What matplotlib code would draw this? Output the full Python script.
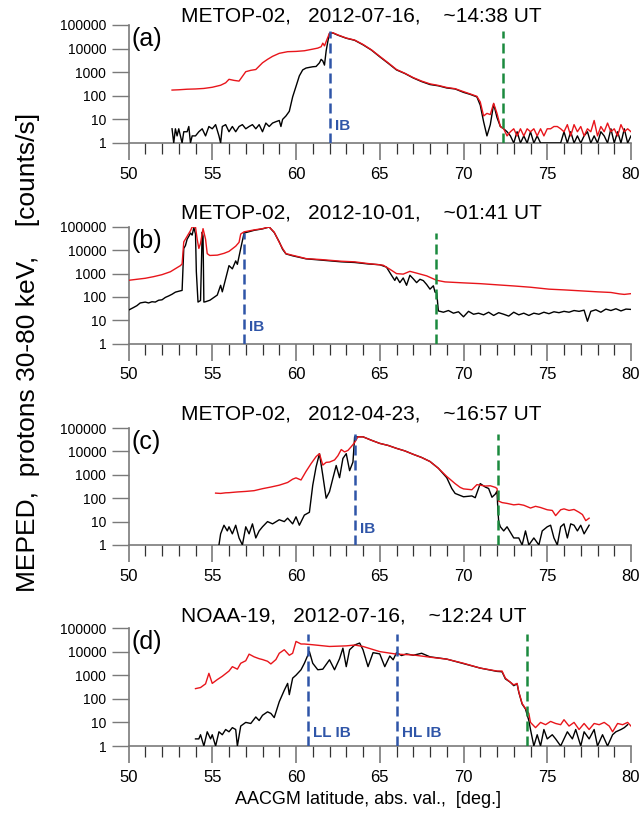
import matplotlib
matplotlib.use("Agg")
import matplotlib.pyplot as plt
from matplotlib.ticker import FixedLocator, LogLocator, NullFormatter

plt.rcParams['font.family'] = ['Liberation Sans', 'DejaVu Sans']

RED = '#e8151b'
BLUE = '#2f55a8'
GREEN = '#1b8a3e'
AXIS_GRAY = '#7a7a7a'

# ---------------- panel (a): METOP-02, 2012-07-16 ----------------
lat_a_red = [52.6, 53.0, 53.5, 54.0, 54.5, 55.0, 55.5, 55.8, 56.0, 56.3, 56.6, 57.0, 57.3,
             57.6, 58.0, 58.3, 58.6, 59.0, 59.5, 60.0, 60.5, 61.0, 61.3, 61.5, 61.6, 61.7,
             61.8, 62.0, 62.2, 62.5, 63.0, 63.5, 64.0, 64.5, 65.0, 65.5, 66.0, 66.5, 67.0,
             67.5, 68.0, 68.5, 69.0, 69.5, 70.0, 70.4, 70.8, 71.0, 71.2, 71.4, 71.6, 71.8,
             72.0, 72.2,
             72.4, 72.6, 72.8, 73.0, 73.2, 73.4, 73.6, 73.8, 74.0, 74.2, 74.4, 74.6, 74.8,
             75.0, 75.2, 75.4, 75.6, 75.8, 76.0, 76.2, 76.4, 76.6, 76.8, 77.0, 77.2, 77.4,
             77.6, 77.8, 78.0, 78.2, 78.4, 78.6, 78.8, 79.0, 79.2, 79.4, 79.6, 79.8, 80.0]
cnt_a_red = [175, 180, 190, 195, 205, 230, 280, 355, 500, 450, 420, 1050, 1200,
             1300, 2500, 3500, 4700, 6300, 7400, 7600, 8100, 9500, 10500, 12000, 17000, 13000,
             20000, 45000, 47000, 38000, 28000, 23000, 15000, 8900, 4700, 2500, 1300, 900, 590,
             420, 320, 275, 225, 200, 150, 120, 95, 55, 14, 18, 16, 48,
             18, 5,
             4, 2, 3, 4, 2, 4, 2, 4, 3, 4, 2, 4, 2,
             4, 4, 5, 5, 4, 3, 6, 2, 6, 3, 5, 2, 4,
             3, 9, 2, 5, 3, 7, 3, 4, 2, 6, 3, 4, 3]

lat_a_blk = [52.6, 52.7, 52.8, 52.9, 53.0, 53.1, 53.2, 53.3, 53.5, 53.6, 53.7, 53.8, 54.0,
             54.2, 54.4, 54.6, 54.8, 55.0, 55.2, 55.4, 55.5, 55.6, 55.8, 56.0, 56.2, 56.4,
             56.6, 56.8, 57.0, 57.2, 57.4, 57.6, 57.8, 58.0, 58.2, 58.4, 58.6, 58.8, 59.0,
             59.1, 59.2, 59.4, 59.6, 59.8, 60.0, 60.2, 60.4, 60.6, 60.8, 61.0, 61.2, 61.4,
             61.5, 61.6, 61.7, 61.8, 61.9, 62.0, 62.2, 62.5, 63.0, 63.5, 64.0, 64.5, 65.0,
             65.5, 66.0, 66.5, 67.0, 67.5, 68.0, 68.5, 69.0, 69.5, 70.0, 70.4, 70.8, 71.0,
             71.2, 71.4, 71.6, 71.8, 72.0, 72.2,
             72.4, 72.6, 72.8, 73.0, 73.2, 73.4, 73.6, 73.8, 74.0, 74.2, 74.4, 74.6, 74.8,
             75.0, 75.2, 75.4, 75.6, 75.8, 76.0, 76.2, 76.4, 76.6, 76.8, 77.0, 77.2, 77.4,
             77.6, 77.8, 78.0, 78.2, 78.4, 78.6, 78.8, 79.0, 79.2, 79.4, 79.6, 79.8, 80.0]
cnt_a_blk = [4, 1, 4, 2, 4, 2, 1, 3, 3, 5, 1, 2, 2,
             3, 4, 2, 5, 4, 6, 2, 1, 5, 6, 3, 5, 3,
             5, 6, 4, 5, 6, 4, 6, 3, 7, 5, 7, 8, 9,
             5, 10, 14, 22, 90, 250, 700, 1250, 1500, 1600, 1700, 1750, 2500,
             3500, 3000, 2000, 8000, 20000, 44000, 46000, 37000, 27500, 22500, 14500, 8700, 4500,
             2400, 1250, 880, 570, 400, 300, 265, 215, 195, 140, 115, 90, 40,
             8, 2, 6, 45, 12, 5,
             4, 3, 2, 1, 3, 1, 2, 1, 3, 1, 2, 1, 1,
             1, 1, 1, 1, 1, 3, 1, 3, 1, 2, 1, 2, 3,
             1, 2, 1, 3, 2, 1, 4, 1, 3, 1, 4, 1, 2]

# ---------------- panel (b): METOP-02, 2012-10-01 ----------------
lat_b_red = [50.0, 50.5, 51.0, 51.5, 52.0, 52.5, 52.9, 53.1, 53.2, 53.3, 53.5, 53.7, 53.8,
             54.0, 54.1, 54.2, 54.3, 54.45, 54.6, 54.7, 54.85, 55.3, 55.7, 56.0, 56.4, 56.6,
             56.7, 56.9, 57.5, 58.0, 58.4, 58.7, 59.0, 59.2, 59.4, 59.8, 60.2, 60.6, 61.5,
             62.7, 63.5, 64.3, 65.2, 65.6, 66.0, 66.4, 66.8, 67.2, 67.8, 68.4, 68.9, 70.0,
             71.0, 72.0, 73.0, 74.0, 75.1, 76.0, 77.1, 78.0, 78.8, 79.3, 79.6, 80.0]
cnt_b_red = [515, 570, 630, 740, 900, 1200, 1800, 2200, 2600, 23000, 40000, 70000, 100000,
             100000, 30000, 12000, 20000, 85000, 30000, 7200, 6000, 6200, 7400, 9000, 15000, 22000,
             50000, 62000, 75000, 85000, 100000, 60000, 22000, 12000, 7200, 6100, 5200, 4400, 4000,
             3400, 3200, 2700, 2300, 1550, 1000, 950, 1250, 1050, 800, 515, 440, 400,
             370, 330, 295, 260, 215, 200, 180, 165, 155, 135, 128, 138]

lat_b_blk = [50.0, 50.3, 50.5, 50.7, 51.0, 51.2, 51.4, 51.6, 51.8, 52.0, 52.2, 52.4, 52.6,
             52.8, 53.0, 53.2, 53.3, 53.4, 53.5, 53.6, 53.7, 53.8, 53.9, 54.0, 54.05, 54.15,
             54.3, 54.4, 54.45, 54.5, 54.6, 54.86, 55.3, 55.5, 55.6, 55.8, 56.0, 56.2, 56.4,
             56.5, 56.7, 56.9, 57.5, 58.0, 58.4, 58.7, 59.0, 59.2, 59.4, 59.8, 60.2, 60.6,
             61.5, 62.7, 63.5, 64.3, 65.0, 65.4, 65.7, 65.9, 66.0, 66.2, 66.4, 66.6, 66.8,
             67.0, 67.2, 67.4, 67.6, 67.8, 68.0, 68.2, 68.3, 68.4,
             68.5, 68.8, 69.1, 69.4, 69.7, 70.0, 70.3, 70.6, 70.9, 71.2, 71.5, 71.8, 72.1,
             72.4, 72.7, 73.0, 73.3, 73.6, 73.9, 74.2, 74.5, 74.8, 75.1, 75.4, 75.7, 76.0,
             76.3, 76.6, 76.9, 77.2, 77.4, 77.6, 77.9, 78.2, 78.5, 78.8, 79.1, 79.4, 79.7, 80.0]
cnt_b_blk = [27, 35, 42, 55, 60, 55, 62, 60, 72, 75, 95, 110, 130,
             160, 175, 190, 12000, 16000, 30000, 40000, 55000, 45000, 95000, 50000, 1200, 60,
             70, 60000, 40000, 60, 62, 72, 120, 315, 165, 600, 2200, 1600, 3500,
             2500, 12000, 55000, 72000, 83000, 100000, 58000, 23000, 11000, 7000, 5800, 5000, 4300,
             3800, 3200, 3000, 2600, 2400, 1900, 850, 510, 720, 410, 650, 315, 850,
             600, 410, 570, 500, 340, 215, 300, 160, 150,
             25, 22, 26, 20, 23, 14, 24, 18, 20, 17, 22, 16, 21,
             18, 15, 22, 17, 20, 16, 20, 18, 22, 19, 23, 21, 24,
             22, 26, 24, 27, 9, 24, 28, 22, 30, 26, 31, 25, 30, 29]

# ---------------- panel (c): METOP-02, 2012-04-23 ----------------
lat_c_red = [55.2, 55.5, 55.8, 56.0, 56.5, 57.0, 57.5, 58.0, 58.5, 59.0, 59.5, 59.8, 60.0,
             60.3, 60.6, 60.9, 61.2, 61.4, 61.6, 61.8, 62.0, 62.3, 62.5, 62.7, 62.9, 63.1,
             63.3, 63.5, 63.7, 64.0, 64.5, 65.0, 65.5, 66.0, 66.5, 67.0, 67.5, 68.0, 68.5,
             69.0, 69.5, 69.8, 70.0, 70.5, 70.8, 71.0, 71.3, 71.6, 71.9, 72.0, 72.1, 72.3,
             72.6, 73.0, 73.3, 73.6, 74.0, 74.3, 74.6, 75.0, 75.3, 75.5, 75.8, 76.0, 76.3,
             76.6, 76.9, 77.1, 77.3, 77.5]
cnt_c_red = [165, 160, 170, 172, 185, 195, 210, 255, 300, 360, 470, 650, 740,
             600, 1400, 3000, 6000, 8000, 2600, 3400, 3500, 4300, 6500, 12000, 9500, 11000,
             16000, 24000, 42000, 42000, 30000, 22000, 18000, 13500, 10500, 7500, 5500, 3700, 1900,
             850, 420, 290, 250, 230, 380, 360, 330, 340, 290, 260, 75, 65,
             60, 52, 55, 50, 38, 45, 40, 32, 30, 18, 32, 35, 30,
             33, 25, 20, 11, 14]

lat_c_blk = [55.4, 55.5, 55.7, 55.9, 56.0, 56.2, 56.4, 56.6, 56.8, 57.0, 57.2, 57.4, 57.6,
             57.8, 58.0, 58.3, 58.6, 59.0, 59.3, 59.5, 59.8, 60.0, 60.2, 60.5, 60.8, 61.0,
             61.2, 61.4, 61.6, 61.8, 62.0, 62.2, 62.4, 62.6, 62.8, 63.0, 63.2, 63.4, 63.5,
             64.0, 64.5, 65.0, 65.5, 66.0, 66.5, 67.0, 67.5, 68.0, 68.5, 69.0, 69.3, 69.5,
             70.0, 70.5, 70.7, 71.0, 71.3, 71.5, 71.7, 71.9, 72.0, 72.05, 72.1, 72.2, 72.4,
             72.6, 73.0, 73.3, 73.5, 73.7, 73.9, 74.2, 74.5, 74.7, 75.0, 75.2, 75.4, 75.6,
             75.8, 76.0, 76.2, 76.4, 76.6, 76.8, 77.0, 77.2, 77.5]
cnt_c_blk = [1, 3, 7, 4, 6, 3, 7, 2, 1, 6, 3, 8, 2,
             4, 6, 10, 8, 12, 10, 14, 8, 16, 7, 19, 25, 360,
             2200, 8000, 950, 100, 190, 700, 2500, 750, 5000, 8000, 1500, 3500, 42000,
             42000, 30000, 22000, 18000, 13500, 10500, 7500, 5500, 3700, 1900, 750, 260, 160,
             115, 125, 105, 420, 300, 260, 110, 150, 200, 36, 10, 6, 4,
             6, 2, 2, 1, 4, 1, 2, 1, 4, 6, 7, 2, 1,
             6, 8, 2, 8, 7, 4, 7, 3, 7]

# ---------------- panel (d): NOAA-19, 2012-07-16 ----------------
lat_d_red = [54.0, 54.3, 54.6, 54.8, 55.0, 55.3, 55.6, 56.0, 56.2, 56.5, 56.7, 57.0, 57.2,
             57.5, 57.8, 58.0, 58.3, 58.5, 58.8, 59.0, 59.3, 59.6, 59.8, 60.0, 60.3, 60.5,
             61.0, 62.0, 63.0, 63.5, 64.0, 65.0, 66.0, 67.0, 68.0, 69.0, 70.0, 71.0, 72.0,
             72.3, 72.5, 72.8, 73.0, 73.2, 73.3, 73.5, 73.7, 73.9, 74.0, 74.3, 74.6, 74.9,
             75.2, 75.5, 75.8, 76.0, 76.3, 76.6, 76.9, 77.2, 77.5, 77.8, 78.1, 78.4, 78.7,
             78.9, 79.2, 79.5, 79.8, 80.0]
cnt_d_red = [270, 300, 430, 1200, 450, 650, 900, 1500, 2300, 1800, 3200, 4100, 7800,
             6000, 5000, 4600, 3900, 3000, 4600, 8500, 12000, 7000, 8500, 27000, 21000, 21000,
             19500, 16500, 17500, 19000, 16500, 10000, 7800, 7200, 5800, 4800, 3200, 2000, 1500,
             1500, 750, 500, 390, 450, 200, 63, 39, 24, 10, 6, 10, 8,
             11, 9, 8, 13, 7, 10, 5, 9, 5, 9, 8, 10, 7,
             4, 9, 8, 10, 7]

lat_d_blk = [54.0, 54.2, 54.3, 54.5, 54.7, 54.9, 55.0, 55.2, 55.4, 55.6, 55.8, 56.0, 56.2,
             56.4, 56.5, 56.7, 57.0, 57.3, 57.6, 57.8, 58.0, 58.3, 58.5, 58.7, 59.0, 59.3,
             59.5, 59.6, 59.8, 60.0, 60.3, 60.5, 60.8, 61.0, 61.3, 61.6, 62.0, 62.3, 62.6,
             62.8, 63.0, 63.2, 63.5, 63.8, 64.0, 64.3, 64.6, 65.0, 65.3, 65.6, 65.8, 66.0,
             66.3, 66.6, 67.0, 67.5, 68.0, 69.0, 70.0, 71.0, 72.0, 72.3, 72.5, 72.8, 73.0,
             73.2, 73.3, 73.5, 73.7, 73.9, 74.0, 74.2, 74.4, 74.6, 74.8, 75.0, 75.3, 75.5,
             75.8, 76.0, 76.2, 76.5, 76.7, 77.0, 77.2, 77.5, 77.8, 78.0, 78.3, 78.6, 78.9,
             79.1, 79.4, 79.6, 79.8]
cnt_d_blk = [2, 2, 3, 1, 4, 2, 3, 1, 4, 3, 5, 4, 6,
             5, 1, 7, 10, 9, 17, 12, 20, 28, 24, 16, 75, 230,
             450, 150, 750, 1000, 1700, 3200, 10000, 3200, 1700, 1800, 4500, 1700, 5000,
             14000, 2300, 12000, 19000, 23000, 12000, 2300, 9000, 8000, 2300, 6500, 4500, 9000,
             6800, 8000, 7000, 8500, 6000, 4800, 3100, 2000, 1450, 1400, 700, 500, 360,
             430, 190, 60, 37, 12, 5, 1, 3, 1, 5, 2, 3, 2,
             1, 2, 4, 2, 5, 1, 4, 2, 5, 1, 3, 1, 3,
             4, 5, 6, 8]

titles = ['METOP-02,   2012-07-16,    ~14:38 UT',
          'METOP-02,   2012-10-01,    ~01:41 UT',
          'METOP-02,   2012-04-23,    ~16:57 UT',
          'NOAA-19,   2012-07-16,    ~12:24 UT']
panel_tags = ['(a)', '(b)', '(c)', '(d)']
ib_lines = [[62.05], [56.92], [63.52], [60.74, 66.03]]
ib_labels = [['IB'], ['IB'], ['IB'], ['LL IB', 'HL IB']]
eq_lines = [72.34, 68.36, 72.07, 73.82]

reds = [(lat_a_red, cnt_a_red), (lat_b_red, cnt_b_red), (lat_c_red, cnt_c_red), (lat_d_red, cnt_d_red)]
blacks = [(lat_a_blk, cnt_a_blk), (lat_b_blk, cnt_b_blk), (lat_c_blk, cnt_c_blk), (lat_d_blk, cnt_d_blk)]

# axes placement in pixels (top, bottom) for 640x814 canvas
W, H = 640.0, 814.0
ax_left, ax_right = 128.5, 631.0
ax_rows = [(25, 143), (227, 343.5), (428, 545), (628, 746)]
title_pads = [1.5, 6.0, 6.0, 5.0]
label_y = [5.3, 5.1, 4.7, 3.7]


def main():
    fig = plt.figure(figsize=(6.4, 8.14), dpi=100)

    for i in range(4):
        top, bot = ax_rows[i]
        ax = fig.add_axes([ax_left / W, 1 - bot / H, (ax_right - ax_left) / W, (bot - top) / H])

        ax.plot(*blacks[i], color='black', lw=1.0, zorder=3, clip_on=True)
        ax.plot(*reds[i], color=RED, lw=1.0, zorder=4, clip_on=True)

        for x, lab in zip(ib_lines[i], ib_labels[i]):
            ax.plot([x, x], [1, 55000], color=BLUE, lw=1.8, dashes=(4, 2), zorder=5)
            ax.text(x + 0.3, label_y[i], lab, color=BLUE, fontsize=11, fontweight='bold',
                    ha='left', va='center', zorder=6)
        ax.plot([eq_lines[i]] * 2, [1, 55000], color=GREEN, lw=1.8, dashes=(4, 2), zorder=5)

        ax.set_yscale('log')
        ax.set_xlim(50, 80)
        ax.set_ylim(1, 1e5)

        ax.xaxis.set_major_locator(FixedLocator([50, 55, 60, 65, 70, 75, 80]))
        ax.xaxis.set_minor_locator(FixedLocator(list(range(50, 81))))
        ax.yaxis.set_major_locator(FixedLocator([1, 10, 100, 1000, 10000, 100000]))
        ax.yaxis.set_minor_locator(LogLocator(base=10, subs=range(2, 10)))
        ax.yaxis.set_minor_formatter(NullFormatter())
        ax.set_yticklabels(['1', '10', '100', '1000', '10000', '100000'])
        ax.set_xticklabels(['50', '55', '60', '65', '70', '75', '80'])

        for side in ('top', 'right'):
            ax.spines[side].set_visible(False)
        for side in ('left', 'bottom'):
            ax.spines[side].set_color(AXIS_GRAY)
            ax.spines[side].set_linewidth(1.2)

        ax.tick_params(axis='y', which='major', direction='out', length=12, width=1.0,
                       color=AXIS_GRAY, labelsize=10, pad=4)
        ax.tick_params(axis='y', which='minor', direction='out', length=6.5, width=0.8,
                       color='#333333')
        ax.tick_params(axis='x', which='major', direction='out', length=12, width=1.2,
                       color=AXIS_GRAY, labelsize=12, pad=5)
        ax.tick_params(axis='x', which='minor', direction='out', length=8, width=0.9,
                       color='#333333')

        ax.set_title(titles[i], fontsize=15, x=(181 - ax_left) / (ax_right - ax_left),
                     ha='left', pad=title_pads[i])
        ax.text(0.006, 0.985, panel_tags[i], transform=ax.transAxes, fontsize=18,
                ha='left', va='top')

    fig.text(28 / W, 1 - 352 / H, 'MEPED,  protons 30-80 keV,    [counts/s]',
             rotation=90, fontsize=19, ha='center', va='center')
    fig.text(368 / W, 1 - 799 / H, 'AACGM latitude, abs. val.,  [deg.]',
             fontsize=13, ha='center', va='center')

    fig.savefig('out.png', dpi=100, facecolor='white')
    plt.close(fig)


if __name__ == '__main__':
    main()
